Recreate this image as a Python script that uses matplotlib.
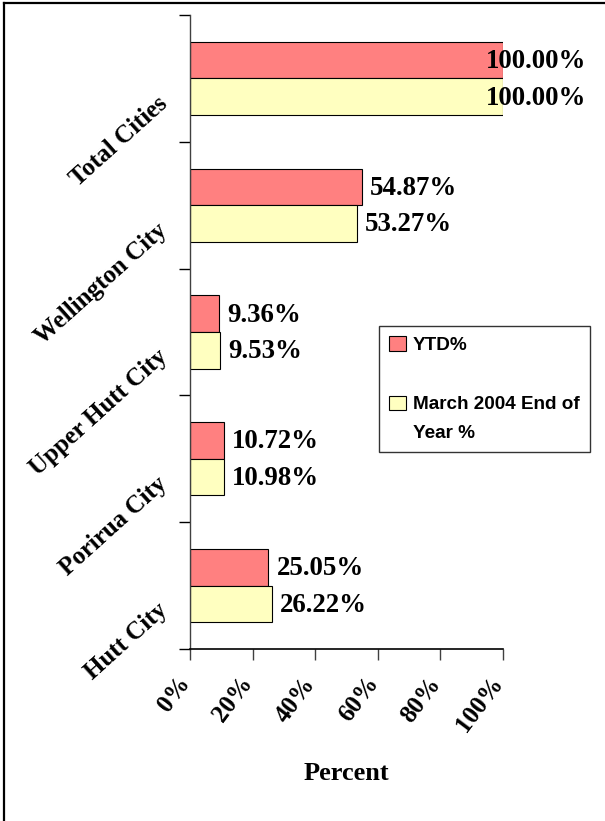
import matplotlib
matplotlib.use("Agg")
import matplotlib.pyplot as plt
import numpy as np
from matplotlib.transforms import ScaledTranslation
from matplotlib.patches import Rectangle
from matplotlib.lines import Line2D
from matplotlib.legend_handler import HandlerPatch

categories = ["Hutt City", "Porirua City", "Upper Hutt City", "Wellington City", "Total Cities"]
ytd = [25.05, 10.72, 9.36, 54.87, 100.00]
march_eoy = [26.22, 10.98, 9.53, 53.27, 100.00]
series_names = ["YTD%", "March 2004 End of\nYear %"]
xticks = [0, 20, 40, 60, 80, 100]
xtick_labels = ["0%", "20%", "40%", "60%", "80%", "100%"]

RED = "#FF8080"
YEL = "#FFFFC0"
SERIF = "Liberation Serif"
SANS = "Liberation Sans"

W, H = 605, 821
fig = plt.figure(figsize=(W / 100, H / 100), dpi=100)
fig.patch.set_facecolor("white")

ax = fig.add_axes([190 / W, 1 - 649 / H, (503 - 190) / W, (649 - 15) / H])

y = np.arange(len(categories))
bh = 0.288
b1 = ax.barh(y + bh / 2, ytd, height=bh, color=RED, edgecolor="black", linewidth=0.8, label=series_names[0])
b2 = ax.barh(y - bh / 2, march_eoy, height=bh, color=YEL, edgecolor="black", linewidth=0.8, label=series_names[1])

ax.set_xlim(0, 100)
ax.set_ylim(-0.5, len(categories) - 0.5)

for spine in ["top", "right"]:
    ax.spines[spine].set_visible(False)
ax.spines["left"].set_color("#404040")
ax.spines["bottom"].set_color("black")
ax.spines["left"].set_linewidth(1.0)
ax.spines["bottom"].set_linewidth(1.2)

# y ticks: boundaries only
ax.set_yticks(np.arange(-0.5, len(categories), 1.0))
ax.set_yticklabels([])
ax.tick_params(axis="y", length=8, width=1.0, color="black", direction="out")

# category labels rotated
off = ScaledTranslation(-0.26, -0.22, fig.dpi_scale_trans)
for yi, c in zip(y, categories):
    ax.text(0, yi, c, transform=ax.get_yaxis_transform() + off, rotation=42,
            rotation_mode="anchor", ha="right", va="center",
            fontsize=18, fontweight="bold", family=SERIF)

ax.set_xticks(xticks)
ax.set_xticklabels(xtick_labels, rotation=53, ha="right", va="top",
                   fontsize=18, fontweight="bold", family=SERIF)
ax.tick_params(axis="x", length=8, width=1.0, color="#404040", direction="out", pad=9)
xshift = ScaledTranslation(0.05, 0, fig.dpi_scale_trans)
for lab in ax.get_xticklabels():
    lab.set_transform(lab.get_transform() + xshift)

ax.set_xlabel("Percent", fontsize=19, fontweight="bold", family=SERIF, va="center")
ax.xaxis.set_label_coords(0.5, -0.1956)

# data labels
vmax = max(max(ytd), max(march_eoy))
for bars, vals in ((b1, ytd), (b2, march_eoy)):
    for rect, v in zip(bars, vals):
        dx = 8 if v < vmax else -17
        ax.annotate(f"{v:.2f}%", xy=(v, rect.get_y() + rect.get_height() / 2),
                    xytext=(dx * 0.72, -1), textcoords="offset points",
                    ha="left", va="center", fontsize=19.4, fontweight="bold",
                    family=SERIF, annotation_clip=False)


def top_aligned(legend, orig_handle, xdescent, ydescent, width, height, fontsize):
    return Rectangle((-xdescent, -ydescent + 11.5), width, height)


h1, h2 = b1.patches[0], b2.patches[0]
leg = ax.legend(handles=[h1, h2], labels=series_names, loc="upper left",
                bbox_to_anchor=(379 / W, 1 - 326 / H), bbox_transform=fig.transFigure,
                prop={"family": SANS, "weight": "bold", "size": 13.6},
                frameon=True, fancybox=False, shadow=False, borderaxespad=0,
                borderpad=0.55, labelspacing=2.2, handlelength=0.9, handleheight=0.8,
                handletextpad=0.35,
                handler_map={h2: HandlerPatch(patch_func=top_aligned)})
leg.get_frame().set_edgecolor("black")
leg.get_frame().set_linewidth(1.0)
leg.get_texts()[1].set_linespacing(1.95)

# figure border (left and top edges visible)
fig.add_artist(Line2D([4 / W, 4 / W], [0, 1 - 3.5 / H], transform=fig.transFigure, color="black", lw=1.6))
fig.add_artist(Line2D([4 / W, 1], [1 - 3.5 / H, 1 - 3.5 / H], transform=fig.transFigure, color="black", lw=1.6))

fig.savefig("out.png", dpi=100)
